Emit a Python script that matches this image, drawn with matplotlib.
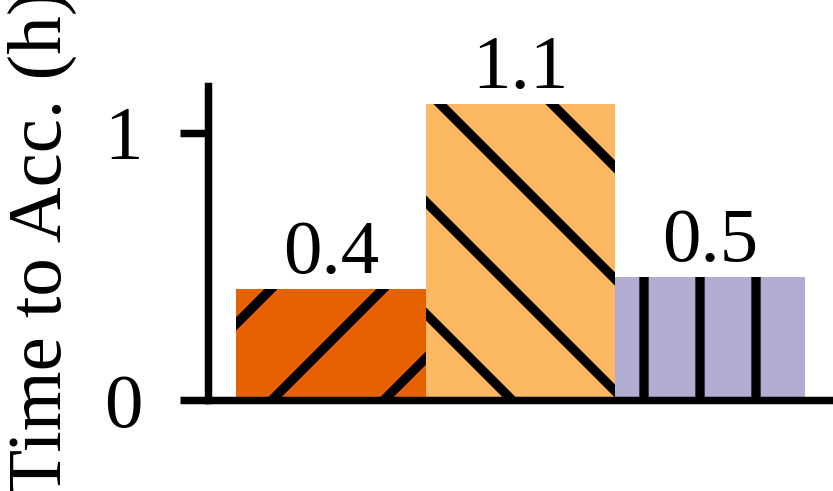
import matplotlib
matplotlib.use("Agg")
import matplotlib.pyplot as plt

# data
values = [0.415, 1.107, 0.46]
colors = ['#e66101', '#fdb863', '#b2abd2']
hatches = ['/', '\\', '|']
yticks = [0, 1]

plt.rcParams['font.family'] = ['Liberation Serif', 'DejaVu Serif']
plt.rcParams['font.size'] = 16.5
plt.rcParams['hatch.linewidth'] = 2.0

dpi = 336
fig = plt.figure(figsize=(833 / dpi, 491 / dpi), dpi=dpi)
ax = fig.add_axes([208 / 833, 91 / 491, 625 / 833, 314 / 491])

x = list(range(len(values)))
bars = ax.bar(x, values, width=1.0, color=colors, edgecolor='black', linewidth=0)
for b, h in zip(bars, hatches):
    b.set_hatch(h)

for xi, v in zip(x, values):
    ax.annotate(f"{v:.1f}", (xi, v), xytext=(0, 0), textcoords='offset points',
                ha='center', va='bottom')

ax.set_xlim(-0.65, 2.65)
ax.set_ylim(0, 1.176)
ax.set_yticks(yticks)
ax.set_xticks([])
ax.spines['top'].set_visible(False)
ax.spines['right'].set_visible(False)
for s in ['left', 'bottom']:
    ax.spines[s].set_linewidth(1.6)
ax.tick_params(axis='y', length=6, width=1.6, pad=8)

ax.set_ylabel("Time to Acc. (h)")
ax.yaxis.set_label_coords(-0.21, 0.5)

fig.savefig("out.png", dpi=dpi)
